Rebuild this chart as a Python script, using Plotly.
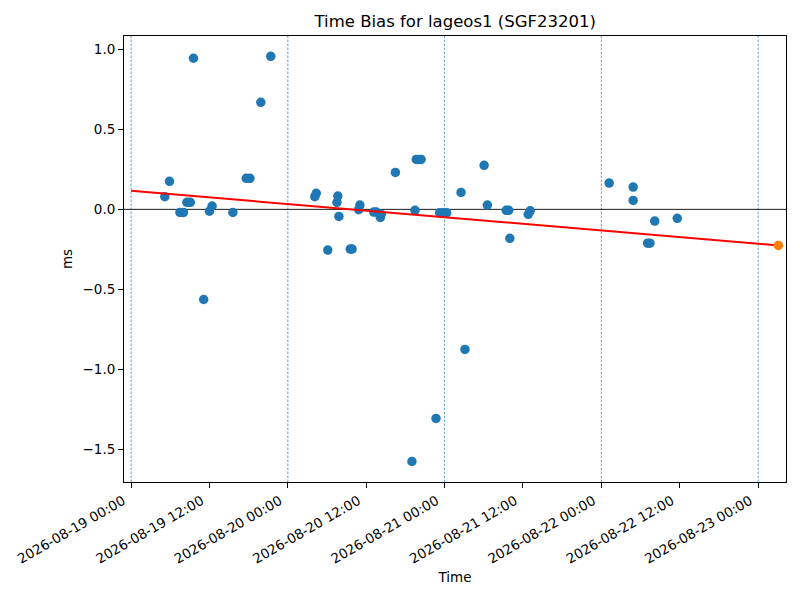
#!/usr/bin/env python3

import plotly.graph_objects as go

# time bias measurements (ms)
obs_times = [
    "2026-08-19 05:10", "2026-08-19 05:53", "2026-08-19 07:29", "2026-08-19 08:01",
    "2026-08-19 08:33", "2026-08-19 09:04", "2026-08-19 09:33", "2026-08-19 11:07",
    "2026-08-19 12:00", "2026-08-19 12:24", "2026-08-19 15:35", "2026-08-19 17:38",
    "2026-08-19 18:12", "2026-08-19 19:52", "2026-08-19 21:23",
    "2026-08-20 04:08", "2026-08-20 04:21", "2026-08-20 06:07", "2026-08-20 07:31",
    "2026-08-20 07:39", "2026-08-20 07:49", "2026-08-20 09:33", "2026-08-20 09:50",
    "2026-08-20 10:51", "2026-08-20 11:02", "2026-08-20 13:09", "2026-08-20 13:32",
    "2026-08-20 14:10", "2026-08-20 14:18", "2026-08-20 16:28", "2026-08-20 19:00",
    "2026-08-20 19:28", "2026-08-20 19:40", "2026-08-20 20:01", "2026-08-20 20:24",
    "2026-08-20 22:41", "2026-08-20 23:14", "2026-08-20 23:47",
    "2026-08-21 00:19", "2026-08-21 02:31", "2026-08-21 03:07", "2026-08-21 06:03",
    "2026-08-21 06:33", "2026-08-21 09:26", "2026-08-21 09:49", "2026-08-21 09:59",
    "2026-08-21 12:48", "2026-08-21 13:06",
    "2026-08-22 01:12", "2026-08-22 04:52", "2026-08-22 04:52", "2026-08-22 07:05",
    "2026-08-22 07:26", "2026-08-22 08:10", "2026-08-22 11:37",
]
obs_bias = [
    0.079, 0.175, -0.019, -0.019,
    0.044, 0.044, 0.944, -0.563,
    -0.011, 0.021, -0.019, 0.194,
    0.194, 0.669, 0.956,
    0.079, 0.100, -0.254, 0.044,
    0.083, -0.044, -0.248, -0.248,
    -0.002, 0.027, -0.017, -0.017,
    -0.050, -0.031, 0.231, -1.575,
    -0.006, 0.312, 0.312, 0.312,
    -1.306, -0.021, -0.021,
    -0.021, 0.106, -0.875, 0.275,
    0.027, -0.006, -0.006, -0.181,
    -0.031, -0.009,
    0.164, 0.139, 0.056, -0.211,
    -0.211, -0.073, -0.056,
]

# linear trend and its extrapolated value
trend_times = ["2026-08-19 00:00", "2026-08-23 03:06"]
trend_bias = [0.116, -0.225]
pred_time = ["2026-08-23 03:06"]
pred_bias = [-0.225]

day_marks = ["2026-08-19", "2026-08-20", "2026-08-21", "2026-08-22", "2026-08-23"]

FONT = "DejaVu Sans"

fig = go.Figure()

for d in day_marks:
    fig.add_vline(x=d, line=dict(color="#1f77b4", width=0.7, dash="2.5px,1.5px"), layer="below")

fig.add_hline(y=0, line=dict(color="black", width=0.9), layer="below")

fig.add_trace(go.Scatter(
    x=obs_times, y=obs_bias, mode="markers",
    marker=dict(size=9.5, color="#1f77b4", line=dict(width=0)),
    name="bias"
))

fig.add_trace(go.Scatter(
    x=trend_times, y=trend_bias, mode="lines",
    line=dict(color="red", width=2),
    name="trend"
))

fig.add_trace(go.Scatter(
    x=pred_time, y=pred_bias, mode="markers",
    marker=dict(size=9.5, color="#ff7f0e", line=dict(width=0)),
    name="prediction"
))

# the page puts the plot 8px in from the top-left corner, margins allow for that
fig.update_layout(
    width=800, height=600,
    margin=dict(l=116, r=22, t=28, b=126),
    paper_bgcolor="white", plot_bgcolor="white",
    showlegend=False,
    font=dict(family=FONT, size=14, color="black"),
    title=dict(
        text="Time Bias for lageos1 (SGF23201)",
        x=0.559, xanchor="center", y=0.978, yanchor="middle",
        xref="container", yref="container",
        font=dict(family=FONT, size=16.5, color="black"),
    ),
)

fig.update_xaxes(
    range=["2026-08-18 22:55", "2026-08-23 04:16"],
    type="date",
    tick0="2026-08-19", dtick=43200000,
    tickformat="%Y-%m-%d %H:%M",
    tickangle=-30,
    ticklabelshift=-8,
    ticks="outside", ticklen=5, tickwidth=1, tickcolor="black",
    tickfont=dict(family=FONT, size=13.5, color="black"),
    showgrid=False, zeroline=False,
    showline=True, linecolor="black", linewidth=1, mirror=True,
    title=dict(text="Time", standoff=6, font=dict(family=FONT, size=13.5)),
    automargin=False,
)

fig.update_yaxes(
    range=[-1.703, 1.083],
    tickvals=[-1.5, -1.0, -0.5, 0.0, 0.5, 1.0],
    tickformat=".1f",
    ticks="outside", ticklen=5, tickwidth=1, tickcolor="black",
    tickfont=dict(family=FONT, size=13.5, color="black"),
    showgrid=False, zeroline=False,
    showline=True, linecolor="black", linewidth=1, mirror=True,
    title=dict(text="ms", standoff=6, font=dict(family=FONT, size=13.5)),
    automargin=False,
)

fig.write_html("out.html")
